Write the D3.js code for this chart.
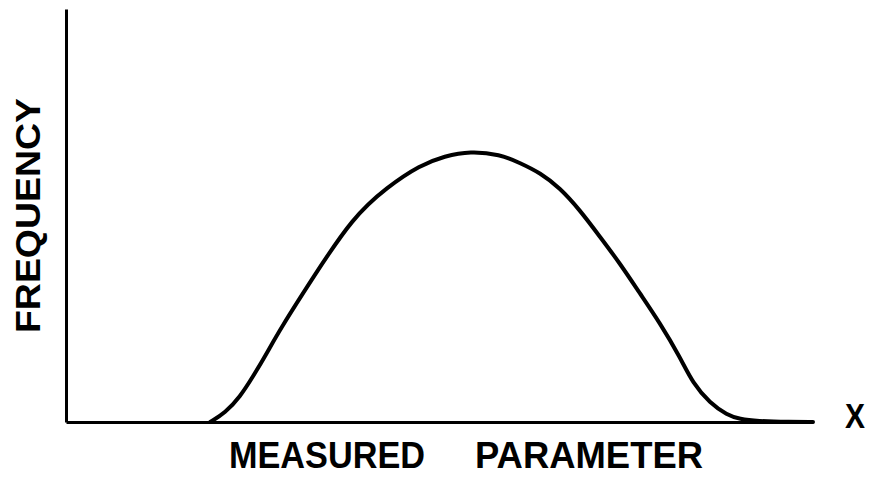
<!DOCTYPE html>
<html>
<head>
<meta charset="utf-8">
<script src="https://cdn.jsdelivr.net/npm/d3@7"></script>
<style>
  body { margin: 0; background: #fff; }
  text { font-family: "Liberation Sans", Arial, sans-serif; font-weight: bold; fill: #000; }
</style>
</head>
<body>
<svg id="chart"></svg>
<script>
// curve (arbitrary units, 0-10 on both axes)
var xValues = [1.93, 2.13, 2.33, 2.50, 2.69, 2.86, 3.31, 3.84, 4.30, 4.74, 5.07, 5.41, 5.81, 6.08, 6.35, 6.61, 6.88, 7.15, 7.42, 7.68, 7.95, 8.22, 8.39, 8.62, 8.85, 9.02, 9.25, 9.69, 10];
var yValues = [0, 0.22, 0.61, 1.09, 1.67, 2.23, 3.51, 4.96, 5.69, 6.22, 6.44, 6.56, 6.48, 6.27, 6.03, 5.67, 5.13, 4.48, 3.83, 3.12, 2.40, 1.57, 0.94, 0.46, 0.17, 0.07, 0.02, 0, 0];
var xLabelWords = ["MEASURED", "PARAMETER"];
var yLabel = "FREQUENCY";
var axisEndLabel = "X";

var width = 869, height = 479;

var svg = d3.select("#chart")
  .attr("width", width)
  .attr("height", height);

var x = d3.scaleLinear().domain([0, 10]).range([66, 813]);
var y = d3.scaleLinear().domain([0, 10]).range([422, 9]);

// axes without ticks, just the lines
svg.append("g")
  .attr("transform", "translate(0," + y(0) + ")")
  .call(d3.axisBottom(x).tickValues([]).tickSizeOuter(0))
  .select(".domain")
  .attr("stroke", "#000")
  .attr("stroke-width", 3);

svg.append("g")
  .attr("transform", "translate(" + x(0) + ",0)")
  .call(d3.axisLeft(y).tickValues([]).tickSizeOuter(0))
  .select(".domain")
  .attr("stroke", "#000")
  .attr("stroke-width", 3);

var points = xValues.map(function(d, i) { return [d, yValues[i]]; });

var line = d3.line()
  .x(function(d) { return x(d[0]); })
  .y(function(d) { return y(d[1]); })
  .curve(d3.curveBasis);

svg.append("path")
  .datum(points)
  .attr("d", line)
  .attr("fill", "none")
  .attr("stroke", "#000")
  .attr("stroke-width", 4)
  .attr("stroke-linecap", "round")
  .attr("stroke-linejoin", "round");

// labels
svg.append("text")
  .attr("x", 229)
  .attr("y", 468)
  .attr("textLength", 196)
  .attr("lengthAdjust", "spacingAndGlyphs")
  .style("font-size", "36px")
  .text(xLabelWords[0]);

svg.append("text")
  .attr("x", 475)
  .attr("y", 468)
  .attr("textLength", 228)
  .attr("lengthAdjust", "spacingAndGlyphs")
  .style("font-size", "36px")
  .text(xLabelWords[1]);

svg.append("text")
  .attr("transform", "translate(40,333) rotate(-90)")
  .attr("textLength", 235)
  .attr("lengthAdjust", "spacingAndGlyphs")
  .style("font-size", "35px")
  .text(yLabel);

svg.append("text")
  .attr("x", 845)
  .attr("y", 428)
  .attr("textLength", 20)
  .attr("lengthAdjust", "spacingAndGlyphs")
  .style("font-size", "35px")
  .text(axisEndLabel);
</script>
</body>
</html>
